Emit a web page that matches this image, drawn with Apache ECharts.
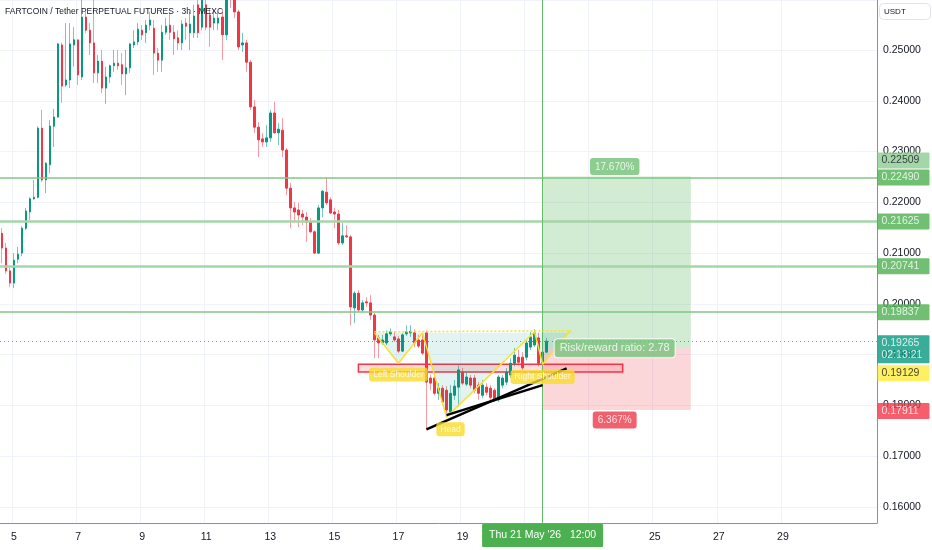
<!DOCTYPE html>
<html><head><meta charset="utf-8">
<script src="https://cdn.jsdelivr.net/npm/echarts@6/dist/echarts.min.js"></script>
<style>html,body{margin:0;padding:0;background:#fff}#c{width:932px;height:550px}</style>
</head><body><div id="c"></div>
<script>
// ---------- data (3h candles, FARTCOIN/USDT) ----------
const opens = [0.2139,0.2110,0.2065,0.2041,0.2088,0.2100,0.2149,0.2181,0.2207,0.2210,0.2346,0.2244,0.2274,0.2350,0.2368,0.2510,0.2431,0.2441,0.2510,0.2520,0.2447,0.2565,0.2539,0.2514,0.2455,0.2478,0.2425,0.2447,0.2469,0.2474,0.2471,0.2453,0.2465,0.2510,0.2516,0.2539,0.2534,0.2549,0.2543,0.2494,0.2480,0.2535,0.2549,0.2535,0.2524,0.2514,0.2553,0.2534,0.2534,0.2589,0.2545,0.2589,0.2569,0.2553,0.2553,0.2565,0.2530,0.2614,0.2599,0.2575,0.2510,0.2514,0.2476,0.2388,0.2348,0.2325,0.2319,0.2327,0.2376,0.2337,0.2342,0.2303,0.2228,0.2189,0.2185,0.2177,0.2171,0.2161,0.2142,0.2100,0.2189,0.2220,0.2205,0.2181,0.2177,0.2120,0.2134,0.2132,0.1992,0.2021,0.1988,0.2004,0.2002,0.1978,0.1933,0.1923,0.1923,0.1941,0.1935,0.1931,0.1907,0.1941,0.1943,0.1943,0.1929,0.1929,0.1943,0.1854,0.1854,0.1824,0.1834,0.1830,0.1787,0.1820,0.1836,0.1866,0.1842,0.1854,0.1854,0.1840,0.1820,0.1836,0.1834,0.1830,0.1811,0.1840,0.1846,0.1860,0.1883,0.1895,0.1895,0.1895,0.1915,0.1919,0.1933,0.1883,0.1905];
const closes = [0.2110,0.2065,0.2041,0.2086,0.2098,0.2149,0.2183,0.2207,0.2210,0.2346,0.2244,0.2277,0.2350,0.2368,0.2512,0.2429,0.2441,0.2512,0.2520,0.2451,0.2565,0.2539,0.2514,0.2455,0.2478,0.2425,0.2447,0.2469,0.2474,0.2469,0.2453,0.2465,0.2512,0.2516,0.2541,0.2530,0.2549,0.2559,0.2494,0.2480,0.2535,0.2547,0.2535,0.2522,0.2514,0.2551,0.2547,0.2551,0.2567,0.2534,0.2604,0.2545,0.2545,0.2563,0.2563,0.2530,0.2604,0.2602,0.2575,0.2506,0.2514,0.2476,0.2388,0.2348,0.2323,0.2319,0.2327,0.2376,0.2337,0.2344,0.2303,0.2228,0.2189,0.2181,0.2175,0.2171,0.2161,0.2142,0.2100,0.2189,0.2222,0.2199,0.2179,0.2177,0.2120,0.2134,0.2132,0.1994,0.2021,0.1988,0.2002,0.2002,0.1978,0.1929,0.1923,0.1929,0.1941,0.1945,0.1929,0.1907,0.1939,0.1945,0.1946,0.1923,0.1917,0.1903,0.1846,0.1844,0.1824,0.1834,0.1807,0.1791,0.1824,0.1838,0.1870,0.1844,0.1856,0.1840,0.1830,0.1824,0.1840,0.1826,0.1816,0.1811,0.1856,0.1854,0.1866,0.1883,0.1899,0.1885,0.1874,0.1923,0.1935,0.1943,0.1883,0.1905,0.19265];
const lows = [0.2080,0.2059,0.2033,0.2031,0.2080,0.2094,0.2145,0.2165,0.2205,0.2208,0.2240,0.2218,0.2258,0.2309,0.2366,0.2396,0.2427,0.2425,0.2467,0.2431,0.2441,0.2534,0.2490,0.2435,0.2435,0.2415,0.2394,0.2435,0.2457,0.2461,0.2431,0.2411,0.2455,0.2504,0.2510,0.2520,0.2514,0.2539,0.2451,0.2457,0.2457,0.2530,0.2520,0.2490,0.2500,0.2500,0.2520,0.2500,0.2524,0.2524,0.2539,0.2539,0.2506,0.2539,0.2539,0.2480,0.2520,0.2583,0.2563,0.2500,0.2496,0.2457,0.2382,0.2337,0.2289,0.2309,0.2309,0.2319,0.2335,0.2313,0.2289,0.2214,0.2149,0.2161,0.2151,0.2155,0.2122,0.2140,0.2098,0.2098,0.2171,0.2195,0.2177,0.2149,0.2116,0.2116,0.2130,0.1958,0.1962,0.1984,0.1984,0.1994,0.1968,0.1893,0.1893,0.1919,0.1919,0.1937,0.1925,0.1903,0.1905,0.1937,0.1935,0.1915,0.1913,0.1899,0.1751,0.1830,0.1820,0.1811,0.1801,0.1785,0.1783,0.1811,0.1797,0.1840,0.1838,0.1834,0.1824,0.1811,0.1814,0.1820,0.1811,0.1807,0.1807,0.1834,0.1840,0.1854,0.1877,0.1881,0.1870,0.1889,0.1909,0.1915,0.1877,0.1879,0.1903];
const highs = [0.2149,0.2120,0.2071,0.2100,0.2112,0.2153,0.2189,0.2210,0.2244,0.2350,0.2382,0.2279,0.2362,0.2384,0.2514,0.2514,0.2553,0.2553,0.2545,0.2520,0.2608,0.2575,0.2553,0.2608,0.2490,0.2500,0.2467,0.2471,0.2500,0.2500,0.2494,0.2500,0.2514,0.2539,0.2553,0.2549,0.2559,0.2575,0.2559,0.2504,0.2549,0.2563,0.2573,0.2549,0.2539,0.2559,0.2563,0.2575,0.2589,0.2608,0.2618,0.2608,0.2583,0.2579,0.2575,0.2579,0.2618,0.2622,0.2608,0.2579,0.2534,0.2520,0.2480,0.2402,0.2358,0.2337,0.2352,0.2382,0.2398,0.2356,0.2366,0.2307,0.2238,0.2201,0.2199,0.2185,0.2181,0.2169,0.2145,0.2195,0.2224,0.2248,0.2210,0.2189,0.2185,0.2159,0.2155,0.2136,0.2025,0.2027,0.2008,0.2013,0.2017,0.1982,0.1939,0.1939,0.1948,0.1952,0.1945,0.1937,0.1943,0.1958,0.1958,0.1950,0.1939,0.1943,0.1948,0.1860,0.1858,0.1844,0.1840,0.1838,0.1840,0.1850,0.1879,0.1874,0.1866,0.1860,0.1860,0.1846,0.1850,0.1844,0.1840,0.1834,0.1860,0.1860,0.1874,0.1893,0.1913,0.1909,0.1905,0.1929,0.1945,0.1950,0.1943,0.1917,0.1933];

// time slots: 3h bars starting May 4, 15:00 through May 31
const firstDay = 4, firstHour = 15, slotHours = 3, slotCount = 219;
const dayTicks = [5,7,9,11,13,15,17,19,21,23,25,27,29];
const hiddenDayTicks = [21,23];
const crosshairSlot = 135;
const crosshairText = "Thu 21 May '26   12:00";

// drawings
const levelLines = [0.22490, 0.21625, 0.20741, 0.19837];
const lastPrice = 0.19265;
const countdown = '02:13:21';
const entryPrice = 0.19129, targetPrice = 0.22509, stopPrice = 0.17911;
const positionSlots = [135, 172];
const labelSlot = 153;
const patternPoints = [[93,0.1943],[99,0.1883],[105,0.1943],[111,0.1777],[133,0.1945],[135,0.1881],[142,0.1948]];
const necklineBase = 0.1943;
const necklinePoints = [[93,0.1945],[142,0.1947]];
const zoneSlots = [89, 155];
const zonePrices = [0.1866, 0.1881];
const trendA = [[106,0.1753],[141,0.1873]];
const trendB = [[111,0.1781],[135,0.1840]];
const patternLabels = [
  {name:'Left Shoulder', value:[99,0.1861]},
  {name:'Head', value:[112,0.1753]},
  {name:'Right Shoulder', value:[135,0.1856]}
];
const tagPrices = [0.22509, 0.22490, 0.21625, 0.20741, 0.19837, 0.19265, 0.19129, 0.17911];

// ---------- build ----------
const categories = [];
for (let k = 0; k < slotCount; k++) {
  const h = firstHour + slotHours * k;
  categories.push((firstDay + Math.floor(h / 24)) + '|' + (h % 24));
}
const catDay = c => +c.split('|')[0];
const catHour = c => +c.split('|')[1];
const isDayTick = c => catHour(c) === 0 && dayTicks.indexOf(catDay(c)) >= 0;

const wickData = opens.map((o, i) => [o, closes[i], lows[i], highs[i]]);
const bodyData = opens.map((o, i) => [o, closes[i], Math.min(o, closes[i]), Math.max(o, closes[i])]);

const FONT = '"Liberation Sans", Arial, sans-serif';
const UP = '#089981', DOWN = '#f23645';

const targetPct = ((targetPrice / entryPrice - 1) * 100);
const stopPct = ((1 - stopPrice / entryPrice) * 100);
const rr = (targetPrice - entryPrice) / (entryPrice - stopPrice);

const tagStyles = [
  {bg:'#8fcc92', fg:'#131722', dy:-16},
  {bg:'#4caf50', fg:'#ffffff', dy:0},
  {bg:'#4caf50', fg:'#ffffff', dy:0},
  {bg:'#4caf50', fg:'#ffffff', dy:0},
  {bg:'#4caf50', fg:'#ffffff', dy:0},
  {bg:'#089981', fg:'#ffffff', dy:8, extra: countdown},
  {bg:'#ffeb3b', fg:'#131722', dy:25},
  {bg:'#f23645', fg:'#ffffff', dy:1}
];
const levelStyles = [
  {color:'#81c784', width:1.5},
  {color:'#a5d6a7', width:2.5},
  {color:'#a5d6a7', width:2.5},
  {color:'#81c784', width:1.5}
];

const option = {
  backgroundColor: '#ffffff',
  animation: false,
  textStyle: {fontFamily: FONT},
  title: [
    {text: 'FARTCOIN / Tether PERPETUAL FUTURES · 3h · MEXC', left: 5, top: 7, padding: 0,
     textStyle: {fontSize: 8.5, fontWeight: 'normal', color: '#131722', fontFamily: FONT}},
    {text: 'USDT', left: 879, top: 3, padding: [5, 25, 4, 5], borderWidth: 1, borderColor: '#e0e3eb', borderRadius: 4,
     textStyle: {fontSize: 8, fontWeight: 'normal', color: '#131722', fontFamily: FONT}}
  ],
  grid: {left: 0, right: 55, top: 0, bottom: 27, outerBoundsMode: 'none', containLabel: false},
  xAxis: {
    type: 'category', data: categories, boundaryGap: true,
    axisLine: {show: true, lineStyle: {color: '#8c8f99', width: 1}},
    axisTick: {show: false},
    axisLabel: {
      color: '#131722', fontSize: 10.5, margin: 9, fontFamily: FONT,
      interval: (idx, val) => isDayTick(val) && hiddenDayTicks.indexOf(catDay(val)) < 0,
      formatter: val => String(catDay(val))
    },
    splitLine: {show: true, interval: (idx, val) => isDayTick(val), lineStyle: {color: '#f0f3fa', width: 1}}
  },
  yAxis: {
    type: 'value', position: 'right', min: 0.15685, max: 0.25985,
    splitNumber: 10, minInterval: 0.01, maxInterval: 0.01,
    axisLine: {show: true, lineStyle: {color: '#8c8f99', width: 1}},
    axisTick: {show: false},
    axisLabel: {color: '#131722', fontSize: 10.5, margin: 6, fontFamily: FONT,
      showMinLabel: false, showMaxLabel: false, formatter: v => v.toFixed(5)},
    splitLine: {show: true, lineStyle: {color: '#f0f3fa', width: 1}}
  },
  series: [
    {
      type: 'line', name: 'position', data: [], silent: true, z: 1,
      markArea: {silent: true, precision: 6, data: [
        [{xAxis: categories[positionSlots[0]], yAxis: entryPrice, itemStyle: {color: 'rgba(76,175,80,0.25)'}},
         {xAxis: categories[positionSlots[1]], yAxis: targetPrice}],
        [{xAxis: categories[positionSlots[0]], yAxis: stopPrice, itemStyle: {color: 'rgba(242,54,69,0.2)'}},
         {xAxis: categories[positionSlots[1]], yAxis: entryPrice}]
      ]}
    },
    {
      type: 'candlestick', name: 'wicks', data: wickData, barWidth: 1, z: 3, silent: true, clip: true,
      itemStyle: {color: 'rgba(0,0,0,0)', color0: 'rgba(0,0,0,0)',
        borderColor: 'rgba(8,153,129,0.55)', borderColor0: 'rgba(242,54,69,0.5)', borderWidth: 1}
    },
    {
      type: 'candlestick', name: 'bodies', data: bodyData, barWidth: 2, z: 4, silent: true, clip: true,
      itemStyle: {color: UP, color0: DOWN, borderColor: UP, borderColor0: DOWN, borderWidth: 1}
    },
    {
      type: 'line', name: 'levels', data: [], silent: true, z: 5,
      markLine: {
        silent: true, precision: 6, symbol: ['none', 'none'], label: {show: false},
        data: levelLines.map((v, i) => ({yAxis: v, lineStyle: {color: levelStyles[i].color, width: levelStyles[i].width, type: 'solid'}}))
          .concat([
            {yAxis: lastPrice, lineStyle: {color: 'rgba(8,153,129,0.75)', width: 1, type: [1, 3]}},
            {xAxis: categories[crosshairSlot], lineStyle: {color: '#66bb6a', width: 1, type: 'solid'},
             label: {show: true, position: 'start', distance: 1, formatter: crosshairText,
               backgroundColor: '#4caf50', color: '#ffffff', fontSize: 10.5, fontFamily: FONT,
               padding: [5, 7, 5, 7], lineHeight: 13, borderRadius: 1}}
          ])
      }
    },
    {
      type: 'line', name: 'zone', data: [], silent: true, z: 6,
      markArea: {silent: true, precision: 6, data: [
        [{xAxis: categories[zoneSlots[0]], yAxis: zonePrices[1],
          itemStyle: {color: 'rgba(242,54,69,0.16)', borderColor: '#f23645', borderWidth: 1.5}},
         {xAxis: categories[zoneSlots[1]], yAxis: zonePrices[0]}]
      ]}
    },
    {
      type: 'line', name: 'pattern', data: patternPoints, symbol: 'none', z: 6, silent: true,
      lineStyle: {color: '#fbe02c', width: 1.5},
      areaStyle: {origin: necklineBase, color: 'rgba(8,153,129,0.16)'}
    },
    {
      type: 'line', name: 'neckline', data: necklinePoints, symbol: 'none', z: 6, silent: true,
      lineStyle: {color: '#fbe02c', width: 1.5, type: [2, 2]}
    },
    {
      type: 'line', name: 'trendA', data: trendA, symbol: 'none', z: 7, silent: true,
      lineStyle: {color: '#000000', width: 2.5}
    },
    {
      type: 'line', name: 'trendB', data: trendB, symbol: 'none', z: 7, silent: true,
      lineStyle: {color: '#000000', width: 2.5}
    },
    {
      type: 'scatter', name: 'patternLabels', data: patternLabels, symbolSize: 1, z: 10, silent: true,
      itemStyle: {color: 'rgba(0,0,0,0)'},
      label: {show: true, position: 'inside', formatter: p => p.name, color: '#ffffff', fontSize: 8.5,
        fontFamily: FONT, backgroundColor: '#f7dc2a', padding: [3, 4, 2, 4], borderRadius: 3}
    },
    {
      type: 'scatter', name: 'positionLabels', symbolSize: 1, z: 10, silent: true,
      itemStyle: {color: 'rgba(0,0,0,0)'},
      data: [
        {value: [labelSlot, targetPrice], label: {show: true, position: 'top', distance: 1,
          formatter: targetPct.toFixed(3) + '%', backgroundColor: '#72c076', color: '#ffffff',
          fontSize: 10, padding: [4, 5, 3, 5], borderRadius: 3, fontFamily: FONT}},
        {value: [labelSlot, stopPrice], label: {show: true, position: 'bottom', distance: 1,
          formatter: stopPct.toFixed(3) + '%', backgroundColor: '#ee3a48', color: '#ffffff',
          fontSize: 10, padding: [4, 5, 3, 5], borderRadius: 3, fontFamily: FONT}},
        {value: [labelSlot, entryPrice], label: {show: true, position: 'inside',
          formatter: 'Risk/reward ratio: ' + rr.toFixed(2), backgroundColor: '#78c27c', color: '#ffffff',
          borderColor: '#ffffff', borderWidth: 1, fontSize: 11, padding: [4, 5, 3, 5], borderRadius: 3, fontFamily: FONT}}
      ]
    },
    {
      type: 'scatter', name: 'priceTags', symbolSize: 1, z: 12, silent: true,
      itemStyle: {color: 'rgba(0,0,0,0)'},
      data: tagPrices.map((p, i) => ({
        value: [slotCount - 1, p],
        label: {show: true, position: 'right', distance: 2, offset: [0, tagStyles[i].dy],
          formatter: p.toFixed(5) + (tagStyles[i].extra ? '\n' + tagStyles[i].extra : ''),
          backgroundColor: tagStyles[i].bg, color: tagStyles[i].fg, fontSize: 10.5, fontFamily: FONT,
          lineHeight: 12, padding: [2, 4, 2, 4], width: 44, borderRadius: 1}
      }))
    }
  ]
};

const chart = echarts.init(document.getElementById('c'));
chart.setOption(option);
</script>
</body></html>
